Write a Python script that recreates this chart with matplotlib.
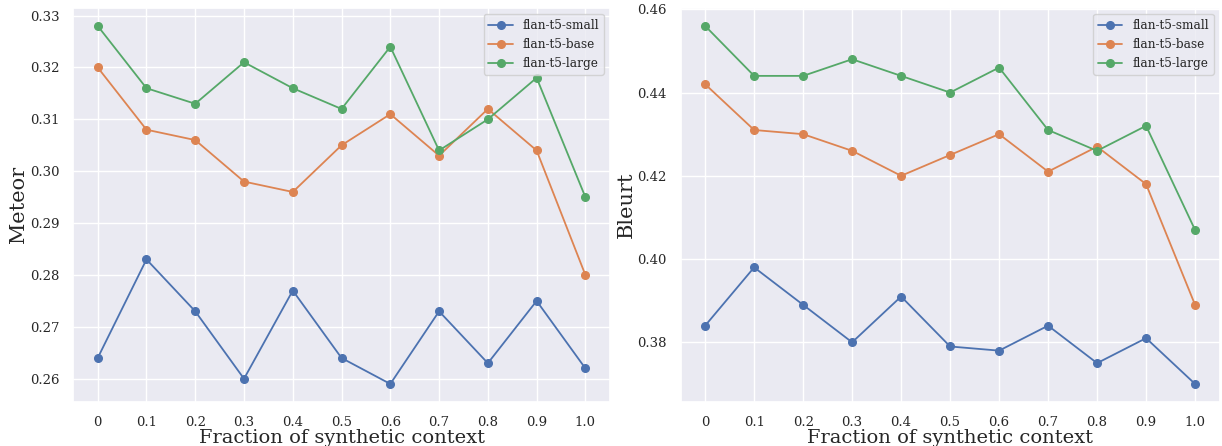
import numpy as np
import matplotlib.pyplot as plt
import seaborn as sns

sns.set_theme(style='darkgrid')
plt.rcParams['font.family'] = ['DejaVu Serif']

# fraction of synthetic context
fractions = ['0', '0.1', '0.2', '0.3', '0.4', '0.5', '0.6', '0.7', '0.8', '0.9', '1.0']
models = ['flan-t5-small', 'flan-t5-base', 'flan-t5-large']

meteor_small = [0.264, 0.283, 0.273, 0.260, 0.277, 0.264, 0.259, 0.273, 0.263, 0.275, 0.262]
meteor_base = [0.320, 0.308, 0.306, 0.298, 0.296, 0.305, 0.311, 0.303, 0.312, 0.304, 0.280]
meteor_large = [0.328, 0.316, 0.313, 0.321, 0.316, 0.312, 0.324, 0.304, 0.310, 0.318, 0.295]

bleurt_small = [0.384, 0.398, 0.389, 0.380, 0.391, 0.379, 0.378, 0.384, 0.375, 0.381, 0.370]
bleurt_base = [0.442, 0.431, 0.430, 0.426, 0.420, 0.425, 0.430, 0.421, 0.427, 0.418, 0.389]
bleurt_large = [0.456, 0.444, 0.444, 0.448, 0.444, 0.440, 0.446, 0.431, 0.426, 0.432, 0.407]

fig = plt.figure(figsize=(12.22, 4.46), dpi=100)
ax1 = fig.add_axes([0.060, 0.099, 0.439, 0.883])
ax2 = fig.add_axes([0.557, 0.099, 0.441, 0.883])

x = np.arange(len(fractions))
panels = [
    (ax1, 'Meteor', [meteor_small, meteor_base, meteor_large]),
    (ax2, 'Bleurt', [bleurt_small, bleurt_base, bleurt_large]),
]

for ax, name, series in panels:
    for label, vals in zip(models, series):
        ax.plot(x, vals, marker='o', markersize=5.5, linewidth=1.3, label=label)
    ax.set_xticks(x)
    ax.set_xticklabels(fractions)
    ax.set_xlim(-0.5, len(fractions) - 0.5)
    ax.yaxis.set_major_formatter(plt.FormatStrFormatter('%.2f'))
    ax.tick_params(labelsize=9.5, pad=4)
    ax.set_xlabel('Fraction of synthetic context', fontsize=14, labelpad=0)
    ax.set_ylabel(name, fontsize=15, labelpad=1)
    ax.legend(loc='upper right', fontsize=8.7)

fig.savefig('out.png', dpi=100)
